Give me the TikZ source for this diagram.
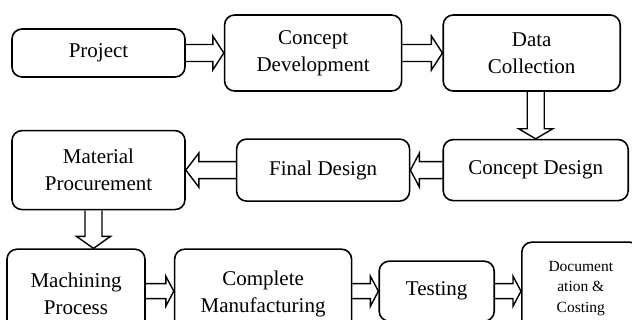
\documentclass[tikz,border=0pt]{standalone}
\usepackage{fontspec}
\setmainfont{Liberation Serif}
\usetikzlibrary{positioning, calc}
\tikzstyle{block}=[draw,fill=white,rectangle,rounded corners=10pt,line width=1.6pt,align=center,inner sep=2pt]
\tikzstyle{every node}=[font=\fontsize{21}{27}\selectfont]
\tikzstyle{fatarrow}=[draw,line width=1.4pt,line join=miter]
\def\shaft{8.5pt}
\def\head{17pt}
% hollow block arrow from #2 to #3, head length #1
\newcommand{\blockarrow}[3][11pt]{%
  \coordinate (hb) at ($#3!#1!#2$);
  \draw[fatarrow] ($#2!\shaft!90:#3$) -- ($(hb)!\shaft!-90:#2$) -- ($(hb)!\head!-90:#2$)
    -- #3 -- ($(hb)!\head!90:#2$) -- ($(hb)!\shaft!90:#2$) -- ($#2!\shaft!-90:#3$);
}

\begin{document}
\begin{tikzpicture}[x=1pt,y=-1pt]
            \useasboundingbox (0,0) rectangle (632,320);
            \clip (0,0) rectangle (632,320);
            % first row
            \node[block, minimum width=173pt, minimum height=48pt] (proj) at (98.5,53) {Project};
            \node[block, minimum width=177pt, minimum height=76pt, right=38pt of proj] (cdev) {Concept\\Development};
            \node[block, minimum width=177pt, minimum height=76pt, right=40pt of cdev] (data) {Data\\Collection};
            % second row
            \node[block, minimum width=185pt, minimum height=61pt, below=47pt of data, xshift=4pt] (cdes) {Concept Design};
            \node[block, minimum width=173pt, minimum height=62pt, left=32pt of cdes] (fdes) {Final Design};
            \node[block, minimum width=173pt, minimum height=79pt, left=50pt of fdes] (matp) {Material\\Procurement};
            % third row
            \node[block, minimum width=138pt, minimum height=90pt, below=38pt of matp, xshift=-22.5pt] (mach) {Machining\\Process};
            \node[block, minimum width=177pt, minimum height=90pt, right=28pt of mach] (comp) {Complete\\Manufacturing};
            \node[block, minimum width=115pt, minimum height=60pt, right=26pt of comp, yshift=3pt] (test) {Testing};
            \node[block, minimum width=118pt, minimum height=92pt, right=26pt of test, yshift=3pt,
                  font=\fontsize{15.5}{20.5}\selectfont] (doc) {Document\\ation \&\\Costing};
            \coordinate (mpout) at ($(matp.south)+(-5,0)$);
            \blockarrow{(proj.east)}{(cdev.west)}
            \blockarrow{(cdev.east)}{(data.west)}
            \blockarrow[10pt]{(cdes.north |- data.south)}{(cdes.north)}
            \blockarrow[9pt]{(cdes.west)}{(fdes.east)}
            \blockarrow[13pt]{(fdes.west)}{(matp.east)}
            \blockarrow[12pt]{(mpout)}{(mpout |- mach.north)}
            \def\shaft{7.5pt}
            \def\head{15pt}
            \blockarrow[8pt]{(mach.east |- test.west)}{(comp.west |- test.west)}
            \blockarrow[8pt]{(comp.east |- test.west)}{(test.west)}
            \blockarrow[8pt]{(test.east)}{(doc.west |- test.east)}
        \end{tikzpicture}
\end{document}
